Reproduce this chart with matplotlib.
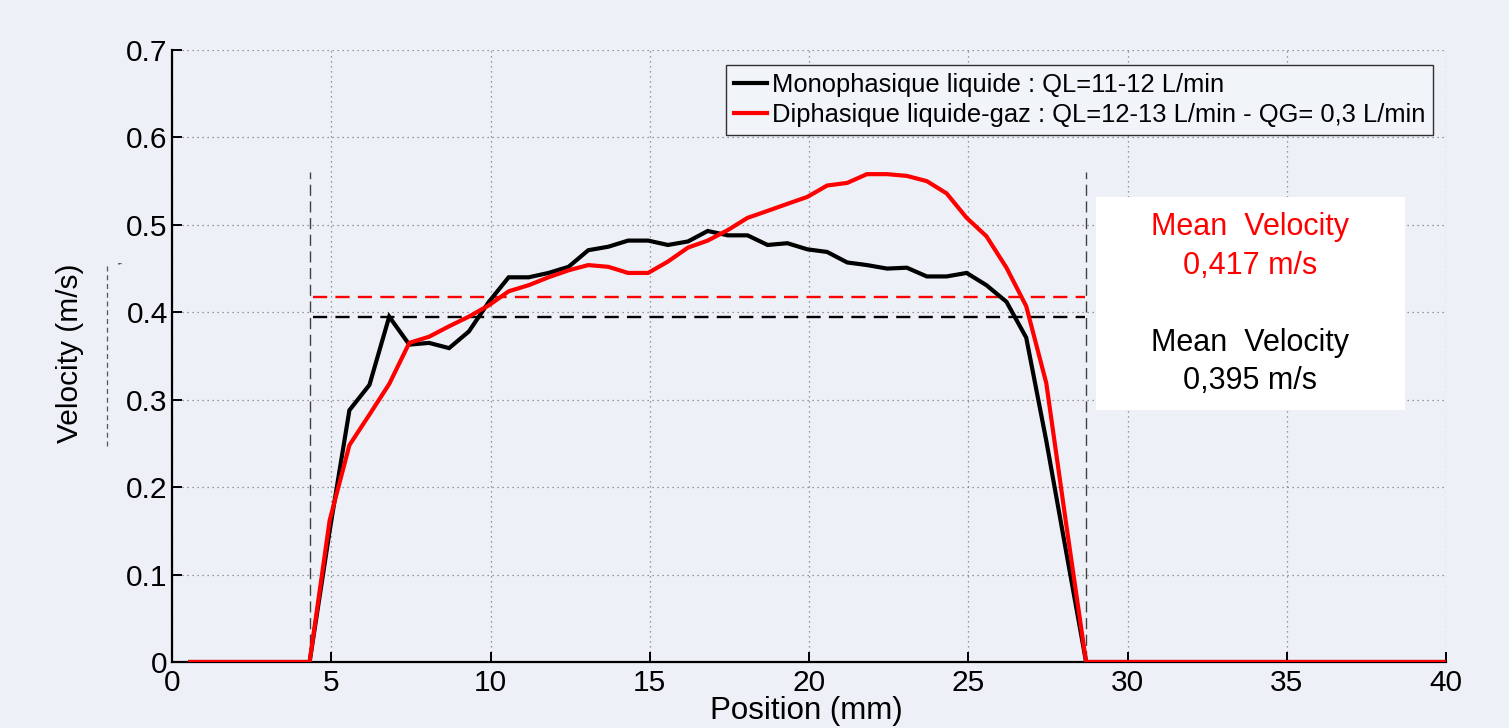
import matplotlib
matplotlib.use("Agg")
import matplotlib.pyplot as plt
from matplotlib.patches import Rectangle
from matplotlib.lines import Line2D

plt.rcParams['font.family'] = ['Liberation Sans', 'DejaVu Sans']

# ---------------- data ----------------
position = [0.57, 4.32, 4.95, 5.57, 6.20, 6.82, 7.45, 8.07, 8.70, 9.32, 9.95,
            10.57, 11.20, 11.82, 12.45, 13.07, 13.70, 14.32, 14.95, 15.57, 16.20,
            16.82, 17.45, 18.07, 18.70, 19.32, 19.95, 20.57, 21.20, 21.82, 22.45,
            23.07, 23.70, 24.32, 24.95, 25.57, 26.20, 26.82, 27.45, 28.07, 28.70,
            40.0]

mono = [0, 0, 0.150, 0.288, 0.317, 0.395, 0.363, 0.365, 0.359, 0.378, 0.412,
        0.440, 0.440, 0.445, 0.452, 0.471, 0.475, 0.482, 0.482, 0.477, 0.481,
        0.493, 0.488, 0.488, 0.477, 0.479, 0.472, 0.469, 0.457, 0.454, 0.450,
        0.451, 0.441, 0.441, 0.445, 0.431, 0.412, 0.371, 0.253, 0.127, 0,
        0]

diph = [0, 0, 0.162, 0.248, 0.283, 0.318, 0.365, 0.372, 0.384, 0.395, 0.408,
        0.424, 0.431, 0.440, 0.448, 0.454, 0.452, 0.445, 0.445, 0.458, 0.474,
        0.482, 0.494, 0.508, 0.516, 0.524, 0.532, 0.545, 0.548, 0.558, 0.558,
        0.556, 0.550, 0.536, 0.508, 0.487, 0.451, 0.407, 0.319, 0.159, 0,
        0]

mean_mono = 0.395
mean_diph = 0.417
channel_edges = [4.32, 28.70]
mean_span = [4.43, 28.65]
edge_top = 0.56

label_mono = "Monophasique liquide : QL=11-12 L/min"
label_diph = "Diphasique liquide-gaz : QL=12-13 L/min - QG= 0,3 L/min"
xticks = [0, 5, 10, 15, 20, 25, 30, 35, 40]
yticks = [0, 0.1, 0.2, 0.3, 0.4, 0.5, 0.6, 0.7]
ytick_labels = ['0', '0.1', '0.2', '0.3', '0.4', '0.5', '0.6', '0.7']

bg = '#edf1f7'

# ---------------- figure ----------------
fig = plt.figure(figsize=(15.09, 7.28), dpi=100)
fig.patch.set_facecolor(bg)
ax = fig.add_axes([172/1509, 66/728, 1274/1509, 612/728])
ax.set_facecolor('none')

ax.set_xlim(0, 40)
ax.set_ylim(0, 0.7)
ax.set_xticks(xticks)
ax.set_xticklabels([str(t) for t in xticks])
ax.set_yticks(yticks)
ax.set_yticklabels(ytick_labels)

ax.grid(True, linestyle=(0, (1, 3)), color='#7a7a7a', lw=0.9)
ax.set_axisbelow(True)

for s in ['top', 'right']:
    ax.spines[s].set_visible(False)
for s in ['left', 'bottom']:
    ax.spines[s].set_linewidth(1.6)
    ax.spines[s].set_color('black')

ax.tick_params(direction='in', length=7, width=1.4, labelsize=21.5, pad=3,
               colors='black')
ax.tick_params(axis='x', pad=5)

# channel edges
for xe in channel_edges:
    ax.plot([xe, xe], [0, edge_top], color='#404040', lw=1.0,
            linestyle=(0, (8, 4)), zorder=2)

# mean lines
ax.hlines(mean_diph, mean_span[0], mean_span[1], colors='red', lw=1.7,
          linestyles=(0, (6, 3.5)), zorder=3)
ax.hlines(mean_mono, mean_span[0], mean_span[1], colors='black', lw=1.7,
          linestyles=(0, (6, 3.5)), zorder=3)

# profiles
ax.plot(position, mono, color='black', lw=3, label=label_mono, zorder=4,
        solid_joinstyle='miter')
ax.plot(position, diph, color='red', lw=3, label=label_diph, zorder=5,
        solid_joinstyle='round')

leg = ax.legend(loc='upper right', bbox_to_anchor=((1433-172)/1274, (662-65)/612),
                borderaxespad=0, fontsize=18.4, handlelength=1.3,
                handletextpad=0.2, borderpad=0.3, labelspacing=0.25,
                frameon=True, fancybox=False, framealpha=1)
leg.get_frame().set_facecolor('#f1f4f9')
leg.get_frame().set_edgecolor('#303030')
leg.get_frame().set_linewidth(1.0)

# annotation box
box = Rectangle((29.0, 0.288), 9.7, 0.244, facecolor='white', edgecolor='none',
                zorder=6, clip_on=False)
ax.add_patch(box)
cx = 33.85
ax.text(cx, 0.497, "Mean  Velocity", color='red', fontsize=22, ha='center',
        va='center', zorder=7)
ax.text(cx, 0.453, "0,417 m/s", color='red', fontsize=22, ha='center',
        va='center', zorder=7)
ax.text(cx, 0.365, "Mean  Velocity", color='black', fontsize=22, ha='center',
        va='center', zorder=7)
ax.text(cx, 0.321, "0,395 m/s", color='black', fontsize=22, ha='center',
        va='center', zorder=7)

# axis labels
ax.set_ylabel("Velocity (m/s)", fontsize=21.5)
ax.yaxis.set_label_coords((84-172)/1274, 0.505)
ax.set_xlabel("Position (mm)", fontsize=22.5)
ax.xaxis.set_label_coords(0.4976, (662-696)/612)

# small stray dashed mark beside the y label
fig.add_artist(Line2D([107/1509, 107/1509], [(728-446)/728, (728-266)/728],
                      color='#555555', lw=0.9, linestyle=(0, (4, 3))))
fig.text(108/1509, (728-262)/728, ",", fontsize=12, color='#555555',
         ha='left', va='center', rotation=90)

fig.savefig("out.png", dpi=100, facecolor=bg)
